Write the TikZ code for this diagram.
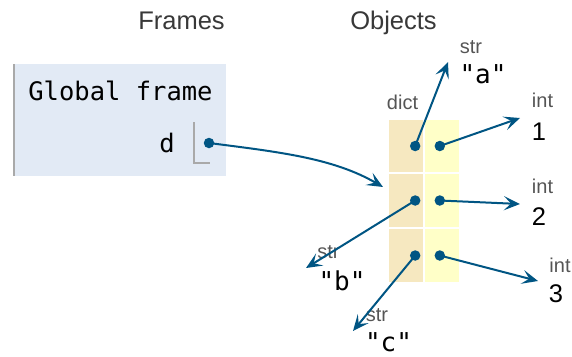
\documentclass[tikz,border=0pt]{standalone}
\usepackage{fontspec}
\setmainfont{Liberation Sans}
\setmonofont{DejaVu Sans Mono}
\usepackage{xcolor}
\usetikzlibrary{arrows.meta, positioning}
\definecolor{framebg}{HTML}{E2EAF5}
\definecolor{framebar}{HTML}{A9A9A9}
\definecolor{keybg}{HTML}{F6E8C0}
\definecolor{valbg}{HTML}{FFFFC8}
\definecolor{ptrblue}{HTML}{005583}
\definecolor{typegray}{HTML}{555555}
\definecolor{headgray}{HTML}{383838}

\begin{document}
\begin{tikzpicture}[x=1pt, y=-1pt,
    header/.style={font=\fontsize{25.5}{30}\selectfont, text=headgray, anchor=base, inner sep=0pt},
    monotext/.style={font=\ttfamily\fontsize{25.5}{30}\selectfont, anchor=base, inner sep=0pt},
    typelabel/.style={font=\fontsize{20}{24}\selectfont, text=typegray, anchor=base, inner sep=0pt},
    numval/.style={font=\fontsize{25.5}{30}\selectfont, anchor=base, inner sep=0pt},
    strval/.style={font=\ttfamily\fontsize{26}{30}\selectfont, anchor=base, inner sep=0pt},
    keycell/.style={rectangle, fill=keybg, minimum width=34pt, minimum height=52.5pt, inner sep=0pt},
    valcell/.style={rectangle, fill=valbg, minimum width=34pt, minimum height=52.5pt, inner sep=0pt},
    dot/.style={circle, fill=ptrblue, minimum size=10.5pt, inner sep=0pt},
    ptr/.style={-{Stealth[length=16pt, width=14pt, inset=7pt]}, line width=2pt, color=ptrblue}
]
\useasboundingbox (0,0) rectangle (572,356);

% headers
\node[header] (frameshead) at (181.5,29.5) {Frames};
\node[header] (objectshead) at (393.5,29.5) {Objects};

% global frame
\node[rectangle, fill=framebg, minimum width=212pt, minimum height=112pt, inner sep=0pt] (gframe) at (120,120) {};
\draw[framebar, line width=2.5pt] (gframe.north west) -- (gframe.south west);
\node[monotext] (gtitle) at (120.5,100) {Global frame};
\node[monotext] (dname) at (167,152) {d};
\draw[framebar, line width=2pt] (194,122) |- (210,163);
\node[dot] (ddot) at (209,143) {};

% dict
\node[typelabel] (dictlabel) at (402.5,109) {dict};
\node[keycell] (k1) at (406,146) {};
\node[valcell] (v1) at (442,146) {};
\node[keycell] (k2) at (406,200.5) {};
\node[valcell] (v2) at (442,200.5) {};
\node[keycell] (k3) at (406,255.5) {};
\node[valcell] (v3) at (442,255.5) {};
\foreach \r in {1,2,3} {
  \node[dot] (k\r dot) at ([xshift=-8pt]k\r.east) {};
  \node[dot] (v\r dot) at ([xshift=15pt]v\r.west) {};
}
\coordinate (dictin) at (383,187);

% objects
\coordinate (objA) at (448,62);
\node[typelabel] (strA) at (471,53) {str};
\node[strval] (valA) at (483,83) {"a"};

\coordinate (obj1) at (520,118);
\node[typelabel] (int1) at (542.5,107) {int};
\node[numval] (val1) at (539,140) {1};

\coordinate (objB) at (306,268);
\node[typelabel] (strB) at (328.5,258) {str};
\node[strval] (valB) at (342,290) {"b"};

\coordinate (obj2) at (520,204);
\node[typelabel] (int2) at (542.5,193) {int};
\node[numval] (val2) at (539,225) {2};

\coordinate (objC) at (353,331);
\node[typelabel] (strC) at (377,321) {str};
\node[strval] (valC) at (388.5,351) {"c"};

\coordinate (obj3) at (538,281);
\node[typelabel] (int3) at (560,272) {int};
\node[numval] (val3) at (556,302) {3};

% pointers
\draw[ptr] (ddot.center) .. controls (279,152) and (333,158) .. (dictin);
\draw[ptr] (k1dot.center) -- (objA);
\draw[ptr] (v1dot.center) -- (obj1);
\draw[ptr] (k2dot.center) -- (objB);
\draw[ptr] (v2dot.center) -- (obj2);
\draw[ptr] (k3dot.center) -- (objC);
\draw[ptr] (v3dot.center) -- (obj3);

\end{tikzpicture}
\end{document}
